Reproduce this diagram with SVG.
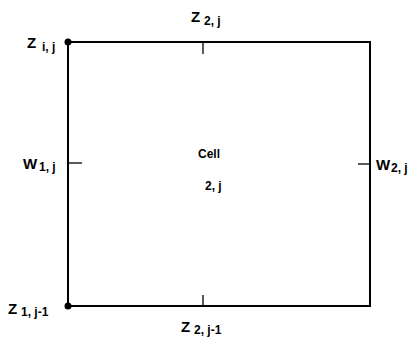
<svg xmlns="http://www.w3.org/2000/svg" width="413" height="338" viewBox="0 0 413 338">
<style>
.ln{stroke:#000;stroke-width:2;fill:none}
.tk{stroke:#000;stroke-width:1.3;fill:none}
.m{font-family:"Liberation Sans",Arial,sans-serif;font-weight:bold;font-size:15px;fill:#000}
.s{font-family:"Liberation Sans",Arial,sans-serif;font-weight:bold;font-size:12px;fill:#000}
.c{font-family:"Liberation Sans",Arial,sans-serif;font-weight:bold;font-size:12px;fill:#000}
</style>
<rect width="413" height="338" fill="#fff"/>
<g id="connectors">
<rect class="ln" x="68" y="42" width="302" height="264"/>
<line class="tk" x1="203" y1="42" x2="203" y2="54"/>
<line class="tk" x1="203" y1="306" x2="203" y2="295"/>
<line class="tk" x1="68" y1="163" x2="82" y2="163"/>
<line class="tk" x1="370" y1="164" x2="358" y2="164"/>
</g>
<g id="z_ij">
<circle cx="68" cy="42" r="3.5" fill="#000"/>
<text class="m" x="27" y="48">Z</text><text class="s" x="42" y="51">i, j</text>
</g>
<g id="z_1j1">
<circle cx="68" cy="306" r="3.5" fill="#000"/>
<text class="m" x="8" y="314">Z</text><text class="s" x="21" y="316">1, j-1</text>
</g>
<g id="z_2j">
<text class="m" x="191" y="22">Z</text><text class="s" x="204" y="25">2, j</text>
</g>
<g id="z_2j1">
<text class="m" x="181" y="332">Z</text><text class="s" x="194" y="334">2, j-1</text>
</g>
<g id="w_1j">
<text class="m" x="23" y="169">W</text><text class="s" x="39" y="171">1, j</text>
</g>
<g id="w_2j">
<text class="m" x="376" y="170">W</text><text class="s" x="391" y="172">2, j</text>
</g>
<g id="cell">
<text class="c" x="198" y="158">Cell</text>
<text class="c" x="205" y="190">2, j</text>
</g>
</svg>
